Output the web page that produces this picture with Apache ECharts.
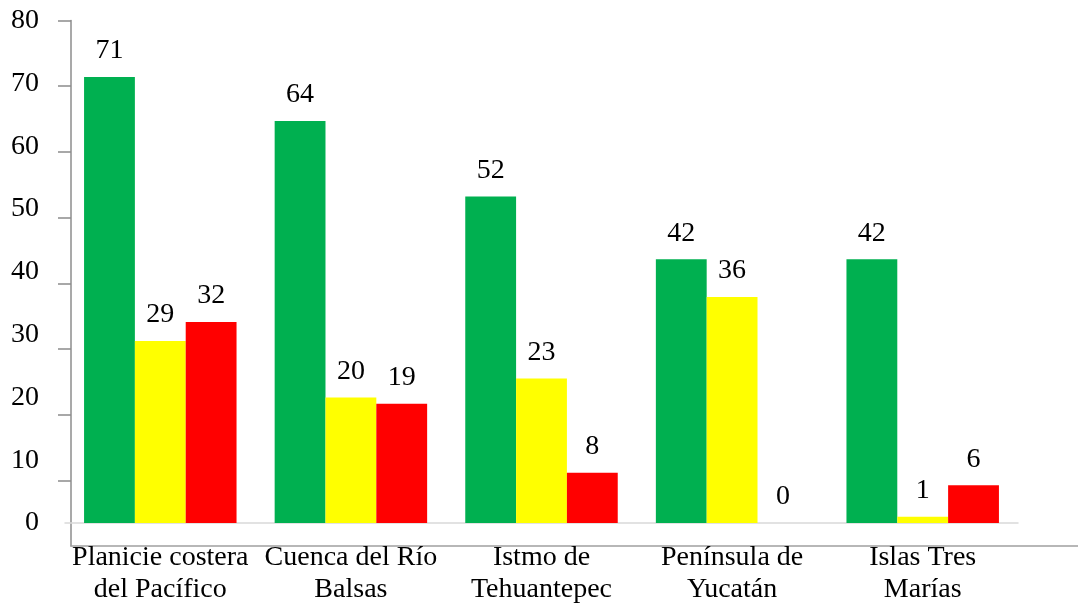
<!DOCTYPE html>
<html>
<head>
<meta charset="utf-8">
<script src="https://cdn.jsdelivr.net/npm/echarts@6/dist/echarts.min.js"></script>
<style>
  html, body { margin: 0; padding: 0; background: #ffffff; }
  #chart { width: 1078px; height: 606px; }
</style>
</head>
<body>
<div id="chart"></div>
<script>
// Regiones y valores de cada serie
const categories = [
  'Planicie costera\ndel Pacífico',
  'Cuenca del Río\nBalsas',
  'Istmo de\nTehuantepec',
  'Península de\nYucatán',
  'Islas Tres\nMarías'
];
const verde    = [71, 64, 52, 42, 42];
const amarillo = [29, 20, 23, 36, 1];
const rojo     = [32, 19, 8, 0, 6];
const yTicks   = [10, 20, 30, 40, 50, 60, 70, 80];

const FONT = '"Liberation Serif", "Times New Roman", serif';
const SIZE = 28;

const chart = echarts.init(document.getElementById('chart'), null, { renderer: 'canvas' });

function barSeries(name, data, color) {
  return {
    name: name,
    type: 'bar',
    xAxisIndex: 0,
    yAxisIndex: 0,
    data: data,
    barGap: '0%',
    barCategoryGap: '20%',
    itemStyle: { color: color },
    label: {
      show: true,
      position: 'top',
      distance: 12,
      color: '#000',
      fontFamily: FONT,
      fontSize: SIZE
    }
  };
}

chart.setOption({
  animation: false,
  backgroundColor: '#ffffff',
  grid: [
    // bar plot
    { left: 65, right: 60, top: 20.6, bottom: 83 },
    // outer frame axis with its own tick spacing
    { left: 71, right: 0, top: 20.5, bottom: 60 }
  ],
  xAxis: [
    {
      gridIndex: 0,
      type: 'category',
      data: categories,
      axisLine: { show: true, lineStyle: { color: '#d9d9d9', width: 1.5 } },
      axisTick: { show: false },
      axisLabel: {
        interval: 0,
        margin: 19,
        color: '#000',
        fontFamily: FONT,
        fontSize: SIZE,
        lineHeight: 32
      }
    },
    {
      gridIndex: 1,
      type: 'value',
      min: 0,
      max: 1,
      axisLine: { show: true, lineStyle: { color: '#a0a0a0', width: 1.5 } },
      axisTick: { show: false },
      axisLabel: { show: false },
      splitLine: { show: false }
    }
  ],
  yAxis: [
    {
      gridIndex: 0,
      type: 'value',
      min: 0,
      max: 80,
      interval: 10,
      axisLine: { show: false },
      axisTick: { show: false },
      splitLine: { show: false },
      axisLabel: {
        margin: 26,
        color: '#000',
        fontFamily: FONT,
        fontSize: SIZE,
        verticalAlign: 'middle',
        padding: [7, 0, 0, 0]
      }
    },
    {
      gridIndex: 1,
      type: 'value',
      min: 0,
      max: 80,
      interval: 10,
      axisLine: { show: true, lineStyle: { color: '#8c8c8c', width: 1.5 } },
      axisTick: {
        show: true,
        length: 13,
        customValues: yTicks,
        lineStyle: { color: '#8c8c8c', width: 1.5 }
      },
      axisLabel: { show: false },
      splitLine: { show: false }
    }
  ],
  series: [
    barSeries('Verde', verde, '#00b050'),
    barSeries('Amarillo', amarillo, '#ffff00'),
    barSeries('Rojo', rojo, '#ff0000')
  ]
});
</script>
</body>
</html>
